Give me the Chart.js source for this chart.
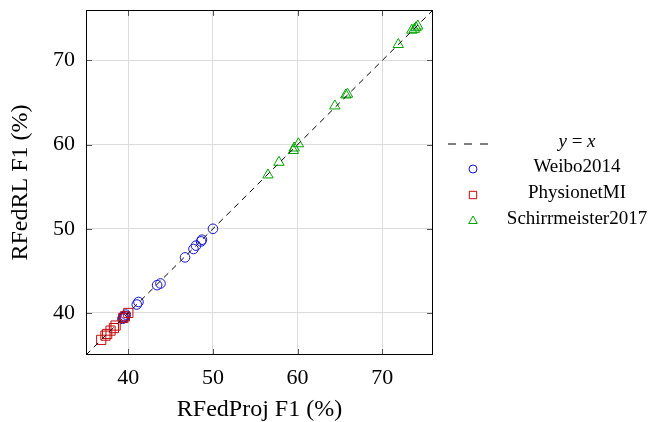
<!DOCTYPE html>
<html>
<head>
<meta charset="utf-8">
<script src="https://cdn.jsdelivr.net/npm/chart.js@4.4.1/dist/chart.umd.min.js"></script>
<style>
  html, body { margin: 0; padding: 0; background: #fff; }
  #wrap { width: 652px; height: 422px; }
</style>
</head>
<body>
<div id="wrap"><canvas id="c" width="652" height="422"></canvas></div>
<script>
// values (RFedProj F1 %, RFedRL F1 %)
const weibo_x = [39.3, 39.4, 39.5, 39.6, 39.7, 41.0, 41.2, 43.4, 43.8, 46.7, 47.7, 48.0, 48.6, 48.7, 50.0];
const weibo_y = [39.3, 39.5, 39.4, 39.6, 39.8, 41.0, 41.3, 43.3, 43.5, 46.6, 47.6, 48.0, 48.5, 48.7, 50.0];

const physio_x = [36.8, 37.3, 37.5, 37.9, 38.3, 38.5, 39.4, 39.6, 40.0];
const physio_y = [36.8, 37.3, 37.5, 37.9, 38.2, 38.5, 39.4, 39.6, 40.0];

const schirr_x = [56.5, 57.8, 59.5, 59.6, 60.1, 64.4, 65.7, 65.9, 71.9, 73.5, 73.8, 74.0, 74.2];
const schirr_y = [56.4, 57.9, 59.3, 59.6, 60.1, 64.6, 65.9, 66.0, 71.9, 73.6, 73.7, 73.9, 74.1];

const axis_min = 35;
const axis_max = 76;
const tick_vals = [40, 50, 60, 70];

const series_names = ["Weibo2014", "PhysionetMI", "Schirrmeister2017"];

const blue = "rgb(20,20,210)";
const red = "rgb(200,10,10)";
const green = "rgb(0,165,0)";
const serif = "'Liberation Serif', 'DejaVu Serif', serif";

const toPts = (xs, ys) => xs.map((x, i) => ({x: x, y: ys[i]}));

// frame, inner tick marks and the legend
const framePlugin = {
  id: "frame",
  afterDraw(chart) {
    const ctx = chart.ctx;
    const a = chart.chartArea;
    const sx = chart.scales.x, sy = chart.scales.y;
    ctx.save();
    ctx.strokeStyle = "#555";
    ctx.lineWidth = 1;
    tick_vals.forEach(v => {
      const px = Math.round(sx.getPixelForValue(v)) + 0.5;
      const py = Math.round(sy.getPixelForValue(v)) + 0.5;
      ctx.beginPath();
      ctx.moveTo(px, a.bottom); ctx.lineTo(px, a.bottom - 6);
      ctx.moveTo(px, a.top); ctx.lineTo(px, a.top + 6);
      ctx.moveTo(a.left, py); ctx.lineTo(a.left + 6, py);
      ctx.moveTo(a.right, py); ctx.lineTo(a.right - 6, py);
      ctx.stroke();
    });
    ctx.strokeStyle = "#000";
    ctx.strokeRect(Math.round(a.left) + 0.5, Math.round(a.top) + 0.5,
                   Math.round(a.right - a.left) - 1, Math.round(a.bottom - a.top) - 1);

    // legend
    const mx = 473, cx = 577;
    const rows = [142, 167, 193, 219];
    ctx.fillStyle = "#000";
    ctx.textBaseline = "middle";
    // y = x row
    ctx.strokeStyle = "#000";
    ctx.setLineDash([8, 8]);
    ctx.beginPath();
    ctx.moveTo(448, rows[0] + 2); ctx.lineTo(490, rows[0] + 2);
    ctx.stroke();
    ctx.setLineDash([]);
    const fIt = "italic 19px " + serif, fUp = "19px " + serif;
    ctx.font = fIt; const wy = ctx.measureText("y").width, wx = ctx.measureText("x").width;
    ctx.font = fUp; const we = ctx.measureText(" = ").width;
    let tx = cx - (wy + we + wx) / 2;
    ctx.textAlign = "left";
    ctx.font = fIt; ctx.fillText("y", tx, rows[0]);
    ctx.font = fUp; ctx.fillText(" = ", tx + wy, rows[0]);
    ctx.font = fIt; ctx.fillText("x", tx + wy + we, rows[0]);

    const styles = [["circle", blue, 4], ["rect", red, 5.2], ["triangle", green, 5]];
    ctx.textAlign = "center";
    ctx.font = fUp;
    styles.forEach((s, i) => {
      ctx.lineWidth = 1;
      ctx.strokeStyle = s[1];
      ctx.fillStyle = "rgba(0,0,0,0)";
      Chart.helpers.drawPoint(ctx, {pointStyle: s[0], radius: s[2], borderWidth: 1}, mx, rows[i + 1] + 2);
      ctx.fillStyle = "#000";
      ctx.fillText(series_names[i], cx, rows[i + 1]);
    });
    ctx.restore();
  }
};

const fixTicks = axis => { axis.ticks = tick_vals.map(v => ({value: v})); };

new Chart(document.getElementById("c"), {
  type: "scatter",
  data: {
    datasets: [
      {
        label: "y = x",
        type: "line",
        data: [{x: axis_min, y: axis_min}, {x: axis_max, y: axis_max}],
        borderColor: "#000",
        borderWidth: 1,
        borderDash: [6, 5],
        pointRadius: 0,
        fill: false,
        order: 0
      },
      {
        label: series_names[0],
        data: toPts(weibo_x, weibo_y),
        pointStyle: "circle",
        pointRadius: 4.8,
        borderColor: blue,
        backgroundColor: "rgba(0,0,0,0)",
        borderWidth: 1,
        order: 3
      },
      {
        label: series_names[1],
        data: toPts(physio_x, physio_y),
        pointStyle: "rect",
        pointRadius: 6.5,
        borderColor: red,
        backgroundColor: "rgba(0,0,0,0)",
        borderWidth: 1,
        order: 2
      },
      {
        label: series_names[2],
        data: toPts(schirr_x, schirr_y),
        pointStyle: "triangle",
        pointRadius: 6,
        borderColor: green,
        backgroundColor: "rgba(0,0,0,0)",
        borderWidth: 1,
        order: 1
      }
    ]
  },
  options: {
    responsive: false,
    animation: false,
    events: [],
    layout: { autoPadding: false, padding: { top: 10, right: 219, left: 0, bottom: 0 } },
    plugins: {
      legend: { display: false },
      tooltip: { enabled: false }
    },
    scales: {
      x: {
        type: "linear",
        min: axis_min,
        max: axis_max,
        afterBuildTicks: fixTicks,
        afterFit: s => { s.height = 67; s.paddingLeft = 0; s.paddingRight = 0; },
        grid: { color: "#dcdcdc", drawTicks: false },
        border: { display: false },
        ticks: { color: "#000", padding: 10, font: { family: serif, size: 22 } },
        title: {
          display: true,
          text: "RFedProj F1 (%)",
          color: "#000",
          font: { family: serif, size: 24, lineHeight: 1 },
          padding: { top: 0, bottom: 0 }
        }
      },
      y: {
        type: "linear",
        min: axis_min,
        max: axis_max,
        afterBuildTicks: fixTicks,
        afterFit: s => { s.width = 86; s.paddingTop = 0; s.paddingBottom = 0; },
        grid: { color: "#dcdcdc", drawTicks: false },
        border: { display: false },
        ticks: { color: "#000", padding: 11, font: { family: serif, size: 22 } },
        title: {
          display: true,
          text: "RFedRL F1 (%)",
          color: "#000",
          font: { family: serif, size: 24, lineHeight: 1 },
          padding: { top: 9, bottom: 0 }
        }
      }
    }
  },
  plugins: [framePlugin]
});
</script>
</body>
</html>
